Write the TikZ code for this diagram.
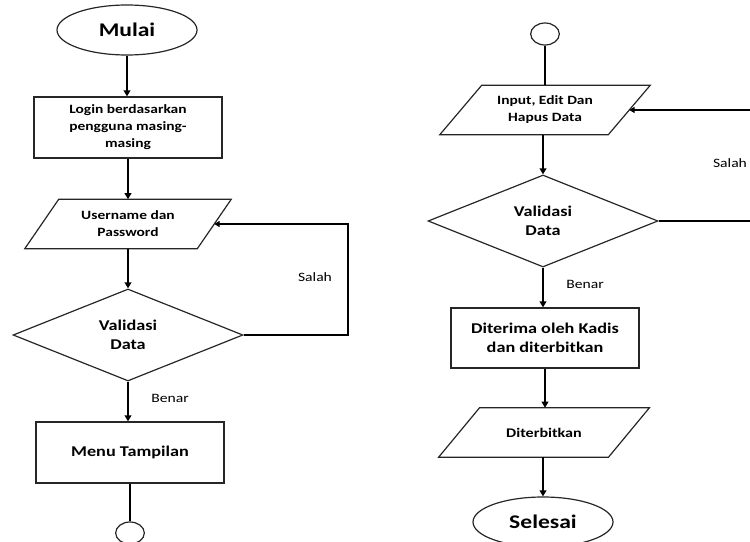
\documentclass[tikz,border=0pt]{standalone}
\usepackage{fontspec}
\setmainfont{Carlito}[FakeStretch=1.22]
\usetikzlibrary{shapes.geometric,arrows.meta,calc}
\newcommand\paradraw[2]{\draw[shp] ($(#1.north west)+(#2,0)$) -- ($(#1.north east)+(#2,0)$) -- ($(#1.south east)+(-#2,0)$) -- ($(#1.south west)+(-#2,0)$) -- cycle;}
\begin{document}
\begin{tikzpicture}[x=0.75pt,y=-0.75pt,
  shp/.style={draw=black!85,line width=0.9pt},
  txt/.style={font=\fontsize{9.5}{12.75}\selectfont\bfseries, align=center},
  big/.style={font=\fontsize{11.2}{13.8}\selectfont\bfseries},
  term/.style={shp,ellipse,minimum width=105pt,minimum height=37.5pt,inner sep=0pt,font=\fontsize{14.5}{16}\selectfont\bfseries},
  proc/.style={shp,rectangle,txt,minimum width=141pt,minimum height=45.75pt,inner sep=0pt},
  iobox/.style={txt,minimum height=36.75pt,inner sep=0pt},
  deci/.style={shp,diamond,txt,big,minimum width=172.5pt,minimum height=69pt,inner sep=0pt},
  conn/.style={shp,ellipse,minimum width=21.5pt,minimum height=16.5pt,inner sep=0pt},
  flow/.style={line width=1.4pt,-{Triangle[length=4.5pt,width=5pt]}},
  plain/.style={line width=1.4pt},
  back/.style={line width=0.9pt,-{Triangle[length=4pt,width=4.5pt]}},
  lbl/.style={font=\fontsize{9.6}{11}\selectfont}
]
\useasboundingbox (0,0) rectangle (750,542);
\clip (0,0) rectangle (750,542);
% left column
\node[term] (mulai) at (127,30) {Mulai};
\node[proc] (login) at (128,127.5) {Login berdasarkan\\pengguna masing-\\masing};
\node[iobox,minimum width=129pt] (user) at (128,224) {Username dan\\Password};
\paradraw{user}{17}
\node[deci] (val1) at (128,335) {Validasi\\Data};
\node[proc,big] (menu) at (130,452.5) {Menu Tampilan};
\node[conn] (c1) at (130,533) {};
\coordinate (r1) at (348,0);
\draw[flow] (mulai.south) -- (mulai.south |- login.north);
\draw[flow] (login.south) -- (login.south |- user.north);
\draw[flow] (user.south) -- (user.south |- val1.north);
\draw[flow] (val1.south) -- (val1.south |- menu.north);
\draw[plain] (menu.south) -- (menu.south |- c1.north);
\draw[back] (val1.east) -- (val1.east -| r1) |- (user.east);
\node[lbl] (salah1) at (315,277) {Salah};
\node[lbl] (benar1) at (170,398) {Benar};
% right column
\node[conn] (c2) at (545,34) {};
\node[iobox,minimum width=126pt] (input) at (545,110) {Input, Edit Dan\\Hapus Data};
\paradraw{input}{21}
\node[deci] (val2) at (543,221) {Validasi\\Data};
\node[proc,big,minimum height=45pt] (terima) at (545,338) {Diterima oleh Kadis\\dan diterbitkan};
\node[iobox,minimum width=127pt,font=\fontsize{9.9}{12}\selectfont\bfseries] (terbit) at (544,432.5) {Diterbitkan};
\paradraw{terbit}{20.5}
\node[term] (selesai) at (543,522) {Selesai};
\coordinate (r2) at (765,0);
\draw[plain] (c2.south) -- (c2.south |- input.north);
\draw[flow] (val2.north |- input.south) -- (val2.north);
\draw[flow] (val2.south) -- (val2.south |- terima.north);
\draw[flow] (terima.south) -- (terima.south |- terbit.north);
\draw[flow] (selesai.north |- terbit.south) -- (selesai.north);
\draw[back] (val2.east) -- (val2.east -| r2) |- (input.east);
\node[lbl] (salah2) at (730,163) {Salah};
\node[lbl] (benar2) at (585,284) {Benar};
\end{tikzpicture}
\end{document}
